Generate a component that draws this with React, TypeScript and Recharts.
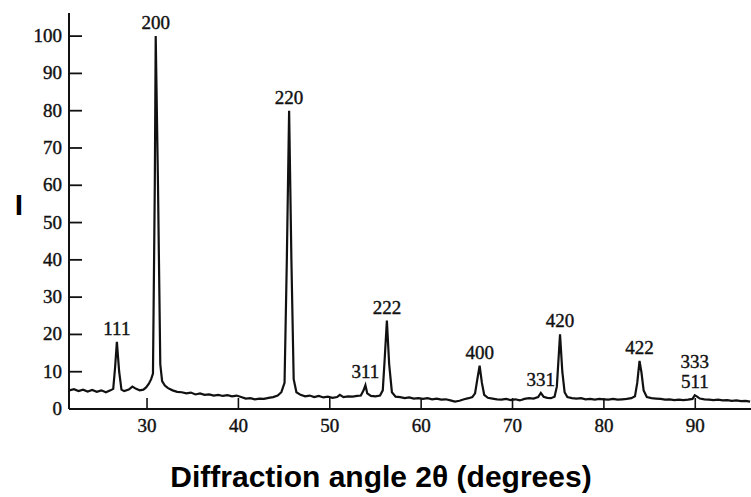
import { Line, LineChart, ReferenceDot, XAxis, YAxis } from 'recharts';

// 2θ positions (degrees) and relative intensity of the scan trace
const angles = [
  21.5, 22.0, 22.5, 23.0, 23.5, 24.0, 24.5, 25.0, 25.5, 26.0, 26.3, 26.5, 26.7, 26.95, 27.2, 27.5,
  28.0, 28.4, 28.8, 29.2, 29.6, 29.9, 30.2, 30.45, 30.65, 30.85, 30.95, 31.2, 31.45, 31.65, 31.95, 32.3, 32.8,
  33.3, 33.8, 34.3, 34.8, 35.3, 35.8, 36.3, 36.8, 37.3, 37.8, 38.3, 38.8, 39.3, 39.8, 40.3, 40.8,
  41.3, 41.8, 42.3, 42.8, 43.3, 43.8, 44.3, 44.7, 45.05, 45.3, 45.55, 45.8, 46.05, 46.35, 46.8, 47.3,
  47.8, 48.3, 48.8, 49.3, 49.8, 50.3, 50.8, 51.1, 51.5, 52.0, 52.5, 53.0, 53.4, 53.7, 53.9, 54.1,
  54.5, 55.0, 55.5, 55.8, 56.0, 56.25, 56.5, 56.8, 57.2, 57.7, 58.2, 58.7, 59.2, 59.7, 60.2, 60.7,
  61.2, 61.7, 62.2, 62.7, 63.2, 63.7, 64.2, 64.7, 65.2, 65.6, 65.9, 66.15, 66.4, 66.65, 66.9, 67.3,
  67.8, 68.3, 68.8, 69.3, 69.8, 70.3, 70.8, 71.3, 71.8, 72.3, 72.8, 73.1, 73.4, 73.8, 74.2, 74.6,
  74.85, 75.0, 75.2, 75.45, 75.7, 76.0, 76.5, 77.0, 77.5, 78.0, 78.5, 79.0, 79.5, 80.0, 80.5, 81.0,
  81.5, 82.0, 82.5, 83.0, 83.4, 83.65, 83.9, 84.1, 84.35, 84.7, 85.2, 85.7, 86.2, 86.7, 87.2, 87.7,
  88.2, 88.7, 89.2, 89.7, 89.95, 90.2, 90.5, 91.0, 91.5, 92.0, 92.5, 93.0, 93.5, 94.0, 94.5, 95.0,
  95.5, 96.0,
];

const intensity = [
  5.0, 5.3, 4.8, 5.2, 4.7, 5.1, 4.6, 5.0, 4.5, 5.0, 5.4, 11, 18, 10, 5.2, 4.8,
  5.2, 6.0, 5.4, 5.0, 5.2, 5.8, 6.8, 8.0, 9.5, 60, 100, 60, 12, 7.5, 6.3, 5.6, 5.0,
  4.6, 4.5, 4.2, 4.4, 3.9, 4.2, 3.8, 3.9, 3.6, 3.8, 3.5, 3.7, 3.4, 3.6, 3.2, 2.8,
  2.9, 2.6, 2.8, 2.7, 3.0, 3.2, 3.6, 4.5, 7, 40, 80, 40, 8, 4.5, 3.8, 3.4,
  3.6, 3.2, 3.5, 3.1, 3.3, 3.0, 3.2, 3.8, 3.2, 3.4, 3.3, 3.5, 3.6, 5.0, 6.4, 4.2,
  3.5, 3.4, 3.6, 5, 13, 23.7, 12, 4.5, 3.3, 3.2, 2.9, 3.1, 2.8, 2.9, 2.7, 2.9,
  2.6, 2.8, 2.5, 2.6, 2.3, 2.0, 2.2, 2.6, 2.9, 3.2, 4.2, 8, 11.6, 7, 3.8, 3.0,
  2.8, 2.6, 2.5, 2.7, 2.4, 2.6, 2.3, 2.7, 2.9, 2.8, 3.2, 4.3, 3.3, 3.0, 2.9, 3.3,
  6, 12, 20, 10, 4.5, 3.2, 2.9, 2.8, 2.9, 2.6, 2.7, 2.5, 2.7, 2.6, 2.5, 2.7,
  2.5, 2.6, 2.7, 2.9, 3.4, 7, 12.9, 10, 5, 3.2, 2.9, 2.8, 2.7, 2.5, 2.6, 2.4,
  2.5, 2.4, 2.5, 2.7, 3.7, 3.3, 2.8, 2.6, 2.5, 2.4, 2.5, 2.3, 2.4, 2.2, 2.3, 2.1,
  2.2, 2.0,
];

// Miller indices of the reflections, with where they sit
const peakNames = [['111'], ['200'], ['220'], ['311'], ['222'], ['400'], ['331'], ['420'], ['422'], ['333', '511']];
const peakAngles = [26.7, 30.95, 45.55, 53.9, 56.25, 66.4, 73.1, 75.2, 83.9, 89.95];
const peakHeights = [18, 100, 80, 6.4, 23.7, 11.6, 4.3, 20, 12.9, 3.7];

const xTicks = [30, 40, 50, 60, 70, 80, 90];
const yTicks = [0, 10, 20, 30, 40, 50, 60, 70, 80, 90, 100];

const data = angles.map((angle, i) => ({ angle, intensity: intensity[i] }));

const serif = '"Liberation Serif", "DejaVu Serif", serif';
const sans = '"Liberation Sans", Arial, sans-serif';

function YTick(props: any) {
  const { x, y, payload } = props;
  return (
    <g>
      <line x1={x + 7} x2={x + 20} y1={y} y2={y} stroke="#111" strokeWidth={1.8} />
      <text x={x} y={y + 6} textAnchor="end" fontFamily={serif} fontSize={19} fill="#111" stroke="#111" strokeWidth={0.4}>
        {payload.value}
      </text>
    </g>
  );
}

function XTick(props: any) {
  const { x, y, payload } = props;
  return (
    <g>
      <line x1={x} x2={x} y1={y - 8} y2={y - 19} stroke="#111" strokeWidth={1.6} />
      <text x={x} y={y + 15} textAnchor="middle" fontFamily={serif} fontSize={19} fill="#111" stroke="#111" strokeWidth={0.4}>
        {payload.value}
      </text>
    </g>
  );
}

function PeakLabel(lines: string[]) {
  return (props: any) => {
    const { cx, cy } = props;
    return (
      <g>
        {lines.map((line, k) => (
          <text
            key={line}
            x={cx}
            y={cy - 7 - (lines.length - 1 - k) * 20}
            textAnchor="middle"
            fontFamily={serif}
            fontSize={19}
            fill="#111"
            stroke="#111"
            strokeWidth={0.4}
          >
            {line}
          </text>
        ))}
      </g>
    );
  };
}

export default function App() {
  return (
    <div style={{ width: 751, height: 497, background: '#fff' }}>
      <style>{'body{margin:0}'}</style>
      <LineChart width={751} height={497} data={data} margin={{ top: 13, right: 0, bottom: 0, left: 0 }}>
        <XAxis
          dataKey="angle"
          type="number"
          domain={[21.46, 96.1]}
          allowDataOverflow
          ticks={xTicks}
          height={88}
          tickSize={0}
          tickMargin={8}
          tickLine={false}
          axisLine={{ stroke: '#111', strokeWidth: 2 }}
          tick={<XTick />}
          label={{
            content: (p: any) => (
              <text
                x={p.viewBox.x + p.viewBox.width / 2 - 29}
                y={p.viewBox.y + 78}
                textAnchor="middle"
                fontFamily={sans}
                fontWeight="bold"
                fontSize={30}
                fill="#000"
              >
                Diffraction angle 2θ (degrees)
              </text>
            ),
          }}
        />
        <YAxis
          type="number"
          domain={[0, 106.2]}
          allowDataOverflow
          ticks={yTicks}
          width={69}
          tickSize={0}
          tickMargin={7}
          tickLine={false}
          axisLine={{ stroke: '#111', strokeWidth: 2 }}
          tick={<YTick />}
          label={{
            content: (p: any) => (
              <text
                x={19}
                y={p.viewBox.y + p.viewBox.height / 2 + 4}
                textAnchor="middle"
                fontFamily={sans}
                fontWeight="bold"
                fontSize={30}
                fill="#000"
              >
                I
              </text>
            ),
          }}
        />
        <Line
          type="linear"
          dataKey="intensity"
          stroke="#111"
          strokeWidth={2.2}
          dot={false}
          isAnimationActive={false}
        />
        {peakNames.map((lines, i) => (
          <ReferenceDot
            key={lines.join('/')}
            x={peakAngles[i]}
            y={peakHeights[i]}
            r={0}
            shape={PeakLabel(lines)}
          />
        ))}
      </LineChart>
    </div>
  );
}
